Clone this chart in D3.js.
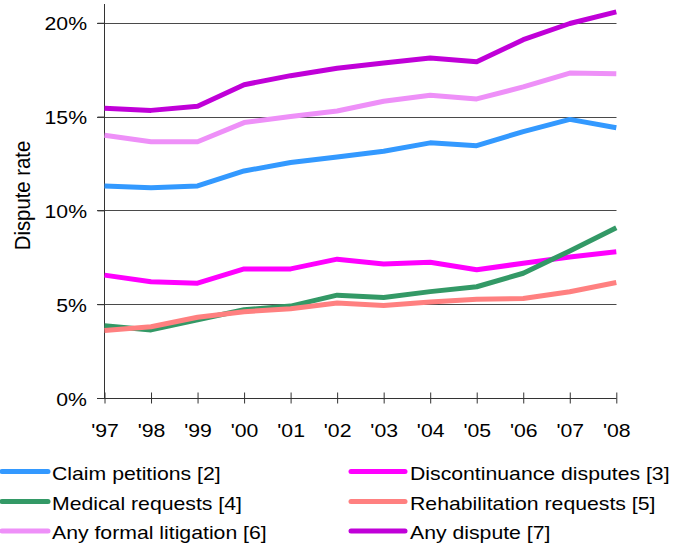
<!DOCTYPE html>
<html>
<head>
<meta charset="utf-8">
<script src="https://cdn.jsdelivr.net/npm/d3@7"></script>
<style>
  body { margin: 0; background: #fff; }
  svg { display: block; font-family: "Liberation Sans", Arial, sans-serif; }
</style>
</head>
<body>
<svg id="chart" width="678" height="547"></svg>
<script>
// Years on the x axis
const years = ["'97", "'98", "'99", "'00", "'01", "'02", "'03", "'04", "'05", "'06", "'07", "'08"];

// Dispute rates (%)
const claimPetitions   = [11.3, 11.2, 11.3, 12.1, 12.55, 12.85, 13.15, 13.6, 13.45, 14.2, 14.85, 14.4];
const discontinuance   = [6.55, 6.2, 6.12, 6.88, 6.88, 7.4, 7.14, 7.24, 6.84, 7.18, 7.52, 7.8];
const medicalRequests  = [3.85, 3.63, 4.17, 4.7, 4.9, 5.48, 5.36, 5.67, 5.93, 6.65, 7.84, 9.08];
const rehabRequests    = [3.6, 3.8, 4.3, 4.6, 4.76, 5.06, 4.93, 5.12, 5.26, 5.3, 5.66, 6.16];
const formalLitigation = [14.0, 13.66, 13.66, 14.68, 15.0, 15.3, 15.82, 16.14, 15.94, 16.58, 17.32, 17.28];
const anyDispute       = [15.44, 15.33, 15.55, 16.7, 17.18, 17.58, 17.86, 18.12, 17.92, 19.1, 19.96, 20.58];

const yTicks = [0, 5, 10, 15, 20];

const seriesNames = [
  "Claim petitions [2]", "Discontinuance disputes [3]",
  "Medical requests [4]", "Rehabilitation requests [5]",
  "Any formal litigation [6]", "Any dispute [7]"
];
const seriesColors = ["#3399ff", "#ff00ff", "#339966", "#ff8080", "#ee90f8", "#c000d8"];
const seriesValues = [claimPetitions, discontinuance, medicalRequests, rehabRequests, formalLitigation, anyDispute];

const series = seriesNames.map((name, i) => ({ name, color: seriesColors[i], values: seriesValues[i] }));

// Text in the picture is stretched a little sideways
const stretch = "scale(1.18,1)";

const svg = d3.select("#chart");

const x = d3.scalePoint()
  .domain(years)
  .range([104.5, 616.3]);

const y = d3.scaleLinear()
  .domain([0, 21])
  .range([398, 4]);

// Grid lines
svg.append("g")
  .selectAll("line")
  .data(yTicks.filter(d => d > 0))
  .enter()
  .append("line")
  .attr("x1", 97)
  .attr("x2", 616.5)
  .attr("y1", d => Math.round(y(d)) + 0.5)
  .attr("y2", d => Math.round(y(d)) + 0.5)
  .attr("stroke", "#4a4a4a")
  .attr("stroke-width", 1);

// y axis
const yAxis = svg.append("g")
  .attr("transform", "translate(104.5,0)")
  .call(d3.axisLeft(y).tickValues(yTicks).tickSize(7).tickFormat(d => d + "%"));

yAxis.select(".domain")
  .attr("d", `M0,${y(0)}V${y(21)}`)
  .attr("stroke", "#333");
yAxis.selectAll(".tick line").attr("stroke", "#333");
yAxis.selectAll(".tick text")
  .attr("x", null)
  .attr("dy", null)
  .attr("y", 7)
  .attr("transform", `translate(-17.5,0) ${stretch}`)
  .attr("font-size", 18)
  .attr("font-family", "Liberation Sans, Arial, sans-serif")
  .attr("fill", "#000");

// x axis
const xAxis = svg.append("g")
  .attr("transform", `translate(0,${Math.round(y(0)) + 0.5})`)
  .call(d3.axisBottom(x).tickSize(5).tickSizeOuter(0));

xAxis.select(".domain")
  .attr("d", "M97,0H616.5")
  .attr("stroke", "#333");
xAxis.selectAll(".tick line")
  .attr("y1", -6)
  .attr("y2", 5)
  .attr("stroke", "#333");
xAxis.selectAll(".tick text")
  .attr("y", null)
  .attr("dy", null)
  .attr("transform", `translate(0,38) ${stretch}`)
  .attr("font-size", 18)
  .attr("font-family", "Liberation Sans, Arial, sans-serif")
  .attr("fill", "#000");

// y axis title
svg.append("text")
  .attr("transform", "translate(30,195.5) rotate(-90) scale(1,1.1)")
  .attr("text-anchor", "middle")
  .attr("font-size", 20.3)
  .attr("fill", "#000")
  .text("Dispute rate");

// Lines
const line = d3.line()
  .x((d, i) => x(years[i]))
  .y(d => y(d));

svg.append("g")
  .selectAll("path")
  .data(series)
  .enter()
  .append("path")
  .attr("d", d => line(d.values))
  .attr("fill", "none")
  .attr("stroke", d => d.color)
  .attr("stroke-width", 5)
  .attr("stroke-linejoin", "round");

// Legend, two columns, three rows
const legendRowY = [471.5, 501.5, 531];
const legendCols = [{ x1: 2, x2: 48, tx: 52 }, { x1: 351, x2: 405, tx: 410 }];

const legend = svg.append("g")
  .selectAll("g")
  .data(series)
  .enter()
  .append("g");

legend.append("line")
  .attr("x1", (d, i) => legendCols[i % 2].x1)
  .attr("x2", (d, i) => legendCols[i % 2].x2)
  .attr("y1", (d, i) => legendRowY[Math.floor(i / 2)])
  .attr("y2", (d, i) => legendRowY[Math.floor(i / 2)])
  .attr("stroke", d => d.color)
  .attr("stroke-width", 5)
  .attr("stroke-linecap", "round");

legend.append("text")
  .attr("transform", (d, i) => `translate(${legendCols[i % 2].tx},${legendRowY[Math.floor(i / 2)] + 8}) ${stretch}`)
  .attr("font-size", 18)
  .attr("fill", "#000")
  .text(d => d.name);
</script>
</body>
</html>
